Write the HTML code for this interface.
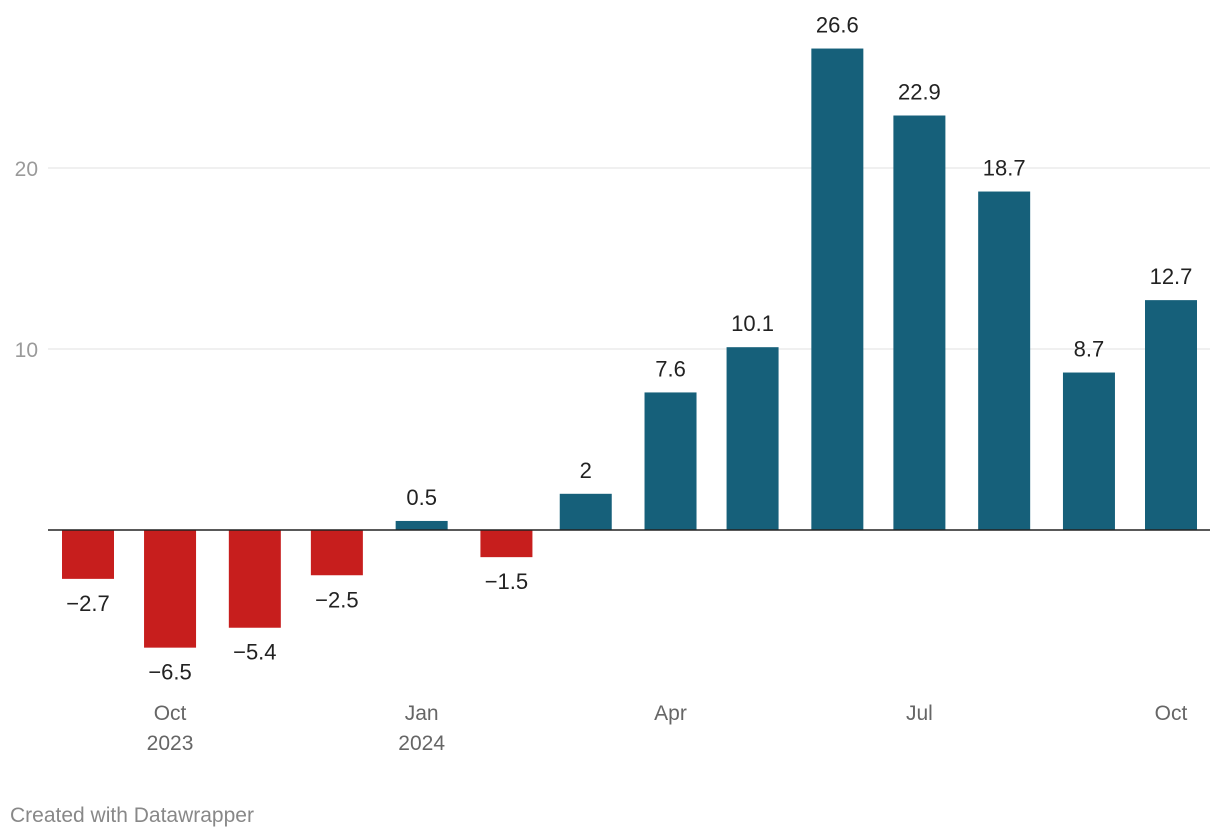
<!DOCTYPE html>
<html><head><meta charset="utf-8">
<style>
body{margin:0;background:#fff;font-family:"Liberation Sans",Arial,sans-serif;}
svg{display:block}
</style></head>
<body>
<svg id="chart" width="1220" height="838"></svg>
<script>
const categories=["2023-09","2023-10","2023-11","2023-12","2024-01","2024-02","2024-03","2024-04","2024-05","2024-06","2024-07","2024-08","2024-09","2024-10"];
const values=[-2.7,-6.5,-5.4,-2.5,0.5,-1.5,2,7.6,10.1,26.6,22.9,18.7,8.7,12.7];
const yTicks=[10,20];
const xTicks=[["2023-10","Oct","2023"],["2024-01","Jan","2024"],["2024-04","Apr",""],["2024-07","Jul",""],["2024-10","Oct",""]];

const NS="http://www.w3.org/2000/svg";
const svg=document.getElementById('chart');
function mk(t,a,txt){const e=document.createElementNS(NS,t);for(const k in a)e.setAttribute(k,a[k]);if(txt!==undefined)e.textContent=txt;svg.appendChild(e);return e;}
const y0=530,pxPerUnit=18.1;
function y(v){return y0-v*pxPerUnit;}
const t0=Date.UTC(2023,8,15),t1=Date.UTC(2024,9,15);
function x(c){const [yy,mm]=c.split('-').map(Number);const t=Date.UTC(yy,mm-1,15);return 88+(t-t0)/(t1-t0)*(1171-88);}
const bw=52;

yTicks.forEach(v=>{
  const g=mk('line',{x1:48,x2:1210,y1:y(v),y2:y(v),stroke:'#e2e2e2','stroke-width':1});
  
  
  const l=mk('text',{x:38,y:y(v)+8,'text-anchor':'end','font-size':21,fill:'#9a9a9a'},v);
  
  
});

values.forEach((v,i)=>{
  const cx=x(categories[i]);
  const top=Math.min(y(v),y0),h=Math.abs(y(v)-y0);
  const r=mk('rect',{x:cx-bw/2,y:top,width:bw,height:h,fill:v<0?'#c71e1d':'#16607a'});
  
  
  const ly=v<0?y(v)+32:y(v)-16;
  const lbl=(v<0?'\u2212'+Math.abs(v):String(v));
  const t=mk('text',{x:cx,y:ly,'text-anchor':'middle','font-size':22,fill:'#222'},lbl);
  
  
});

const zl=mk('line',{x1:48,x2:1210,y1:y0,y2:y0,stroke:'#222','stroke-width':1.5});



xTicks.forEach(tk=>{
  const cx=x(tk[0]);
  const a=mk('text',{x:cx,y:720,'text-anchor':'middle','font-size':21,fill:'#666'},tk[1]);
  
  
  if(tk[2]){
    const b=mk('text',{x:cx,y:750,'text-anchor':'middle','font-size':21,fill:'#666'},tk[2]);
    
    
  }
});

const f=mk('text',{x:10,y:822,'font-size':21,fill:'#888'},'Created with Datawrapper');


</script>
</body></html>
